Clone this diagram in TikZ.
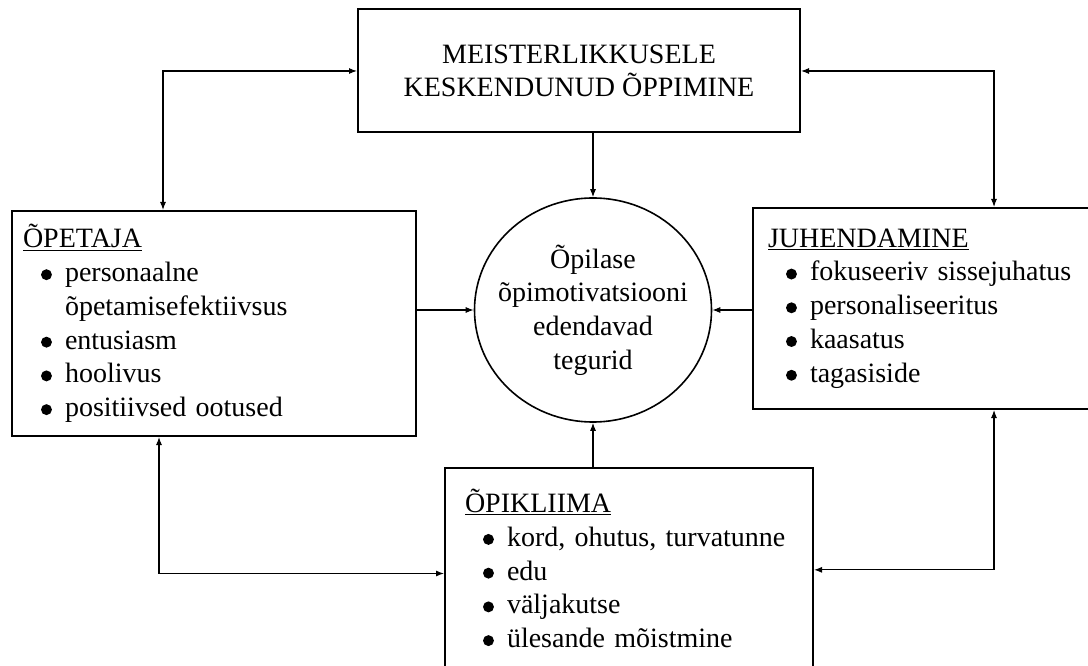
\documentclass[tikz,border=0pt]{standalone}
\usepackage{fontspec}
\setmainfont{Liberation Serif}
\usetikzlibrary{arrows.meta,shapes.geometric}
\newcommand\px{0.75pt}
\newcommand\kastJoon{1.5pt}
\newcommand\noolJoon{0.8pt}
\newcommand\tapp{\tikz[baseline=0pt]\fill (0,5.2pt) circle (4.1pt);}
\newcommand\punkt[1]{\hspace*{13.5pt}\makebox[18pt][l]{\tapp}#1}
\newcommand\jatk[1]{\hspace*{31.5pt}#1}
\tikzset{
	kast/.style={draw, line width=\kastJoon, anchor=north west, align=left, inner ysep=0pt},
	ring/.style={draw, ellipse, line width=1.2pt, align=center, inner xsep=-20pt, inner ysep=0pt},
	nool/.style={line width=\noolJoon, -{Latex[length=6pt,width=4.5pt]}},
	noolkaks/.style={line width=\noolJoon, {Latex[length=6pt,width=4.5pt]}-{Latex[length=6pt,width=4.5pt]}}
}

\begin{document}
\begin{tikzpicture}[x=\px, y=-\px, font=\fontsize{21}{25.3}\selectfont]
	\useasboundingbox (0,0) rectangle (1088,666);
	\clip (0,0) rectangle (1088,666);
	
	\node[kast, anchor=center, align=center, minimum width=331.5pt, minimum height=92.25pt] (meister) at (579,71)
	{MEISTERLIKKUSELE\\KESKENDUNUD ÕPPIMINE};
	
	\node[ring, minimum width=177.75pt, minimum height=168pt] (ring) at (593,310)
	{Õpilase\\õpimotivatsiooni\\edendavad\\tegurid};
	
	\node[kast, inner xsep=8.25pt, text width=286.5pt, minimum height=168.75pt] (opetaja) at (11,210)
	{\underline{ÕPETAJA}\\
	\punkt{personaalne}\\
	\jatk{õpetamisefektiivsus}\\
	\punkt{entusiasm}\\
	\punkt{hoolivus}\\
	\punkt{positiivsed ootused}};
	
	\node[kast, inner xsep=11.25pt, text width=247.5pt, minimum height=150.75pt] (juhend) at (752,207)
	{\underline{JUHENDAMINE}\\
	\punkt{fokuseeriv sissejuhatus}\\
	\punkt{personaliseeritus}\\
	\punkt{kaasatus}\\
	\punkt{tagasiside}};
	
	\node[kast, inner xsep=15pt, text width=246pt, minimum height=150.75pt] (kliima) at (444,467)
	{\underline{ÕPIKLIIMA}\\
	\punkt{kord, ohutus, turvatunne}\\
	\punkt{edu}\\
	\punkt{väljakutse}\\
	\punkt{ülesande mõistmine}};
	
	\draw[noolkaks] (meister.west) -| ([xshift=114pt]opetaja.north west);
	\draw[noolkaks] (meister.east) -| ([xshift=181.5pt]juhend.north west);
	\draw[nool] (meister.south -| ring.north) -- (ring.north);
	\draw[nool] (ring.west -| opetaja.east) -- (ring.west);
	\draw[nool] (ring.east -| juhend.west) -- (ring.east);
	\draw[nool] (ring.south |- kliima.north) -- (ring.south);
	\draw[noolkaks] ([xshift=111pt]opetaja.south west) |- ([yshift=-3.75pt]kliima.west);
	\draw[noolkaks] ([xshift=181.5pt]juhend.south west) |- ([yshift=-1pt]kliima.east);
\end{tikzpicture}
\end{document}
